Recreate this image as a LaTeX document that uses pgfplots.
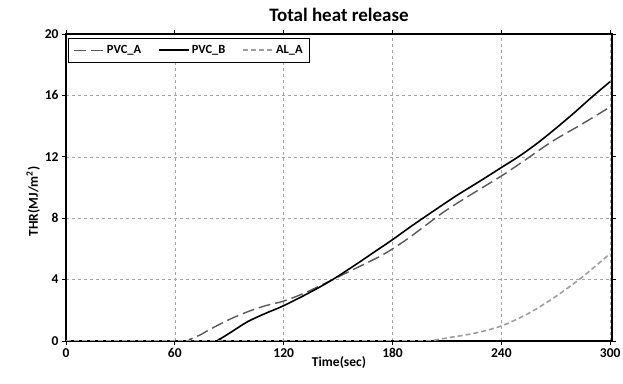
\documentclass[border=0pt]{standalone}
\usepackage{pgfplots}
\pgfplotsset{compat=1.18}
\usepackage{fontspec}
\setmainfont{Carlito}
\begin{document}
\begin{tikzpicture}[x=1pt,y=1pt]
\begin{axis}[
  scale only axis, width=546pt, height=307pt,
  xmin=0, xmax=301, ymin=0, ymax=20,
  xtick={0,60,...,300}, ytick={0,4,...,20},
  tick align=outside, tick style={black, thick}, major tick length=4pt,
  axis line style={black, line width=1.6pt},
  grid=major, grid style={gray!70, dashed, line width=0.5pt},
  title={\bfseries Total heat release}, title style={font=\fontsize{19}{21}\selectfont, yshift=3pt},
  xlabel={\bfseries Time(sec)}, ylabel={\bfseries THR(MJ/m$^{\mathbf{2}}$)},
  xlabel style={font=\fontsize{13.5}{15}\selectfont, yshift=8pt},
  ylabel style={font=\fontsize{13.5}{15}\selectfont, yshift=-2pt, xshift=-14pt},
  ticklabel style={font=\fontsize{13.5}{15}\selectfont\bfseries},
  /pgf/number format/assume math mode=true,
  legend columns=3,
  legend style={at={(0.004,0.987)}, anchor=north west, draw=black, line width=0.8pt, font=\fontsize{12.5}{14}\selectfont\bfseries, inner xsep=5pt, inner ysep=5pt, /tikz/every even column/.append style={column sep=15pt}},
  legend image code/.code={\draw[#1] (0pt,0pt) -- (30pt,0pt);},
]
\addplot[gray!70!black, line width=1.4pt, dash pattern=on 12pt off 5pt, smooth] coordinates {
(0,0) (64,0) (68,0.1) (74,0.4) (80,0.8) (90,1.4) (100,1.9) (110,2.3) (120,2.6) (132,3.15) (147,4.0) (160,4.75) (172,5.45) (180,6.0) (190,6.8) (207,8.3) (220,9.3) (240,10.75) (252,11.7) (268,13.0) (284,14.1) (300,15.25)
};
\addlegendentry{PVC\_A}
\addplot[black, line width=1.6pt, smooth] coordinates {
(0,0) (80,0) (84,0.08) (90,0.5) (100,1.25) (110,1.8) (120,2.3) (135,3.2) (147,4.0) (160,5.0) (170,5.8) (180,6.6) (190,7.45) (203,8.5) (215,9.45) (228,10.4) (240,11.3) (250,12.05) (260,12.9) (270,13.85) (280,14.85) (290,15.9) (300,16.9)
};
\addlegendentry{PVC\_B}
\addplot[gray!75, line width=1.6pt, dash pattern=on 5pt off 3pt, smooth] coordinates {
(0,0) (100,0) (180,0) (195,0) (203,0.05) (210,0.2) (225,0.5) (240,0.98) (255,1.8) (270,2.9) (285,4.2) (300,5.7)
};
\addlegendentry{AL\_A}
\end{axis}
\pgfresetboundingbox
\path ([shift={(-66pt,-43pt)}]current axis.south west) rectangle ([shift={(11pt,34pt)}]current axis.north east);
\end{tikzpicture}
\end{document}
